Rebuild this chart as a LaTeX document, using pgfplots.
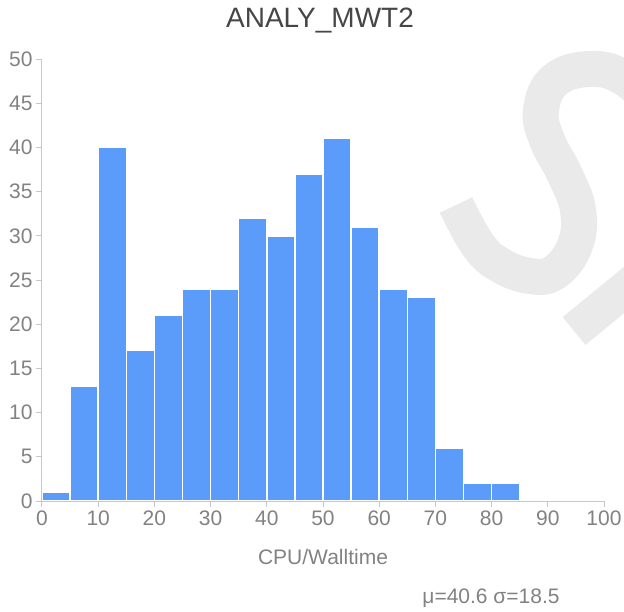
\documentclass[border=0pt]{standalone}
\usepackage{fontspec}
\setmainfont{Liberation Sans}
\usepackage{pgfplots}
\pgfplotsset{compat=1.18}
\definecolor{barblue}{RGB}{91,156,250}
\definecolor{tickgray}{RGB}{130,130,130}
\definecolor{axisgray}{RGB}{200,200,200}
\definecolor{titlegray}{RGB}{70,70,70}
\definecolor{wm}{RGB}{234,234,234}
\begin{document}
\begin{tikzpicture}[x=1pt,y=1pt]
\useasboundingbox (0,0) rectangle (624,611);
\begin{scope}
\clip (0,0) rectangle (624,611);
\draw[wm, line width=36pt, line cap=butt] plot[smooth, tension=0.7] coordinates {(660,501) (624,533) (590,542) (555,531) (541,501) (547,471) (565,436) (578,401) (575,366) (555,339) (530,335) (500,346) (478,366) (456,406)};
\draw[wm, line width=36pt] (574,280) -- (700,383);
\end{scope}
\begin{axis}[at={(42pt,110pt)}, anchor=south west, scale only axis,
  width=562pt, height=442pt,
  xmin=0, xmax=100, ymin=0, ymax=50,
  axis x line=bottom, axis y line=left,
  axis line style={axisgray, line width=1pt, -},
  xtick={0,10,...,100}, ytick={0,5,...,50},
  tick style={axisgray, line width=1pt},
  tick align=outside, major tick length=6pt,
  tick label style={font=\fontsize{21}{24}\selectfont, text=tickgray},
  /pgf/number format/assume math mode=true,
  axis on top=true,
  clip=false]
\addplot[ybar interval, fill=barblue, draw=white, line width=1.5pt] coordinates {(0,1)(5,13)(10,40)(15,17)(20,21)(25,24)(30,24)(35,32)(40,30)(45,37)(50,41)(55,31)(60,24)(65,23)(70,6)(75,2)(80,2)(85,0)};
\end{axis}
\node[text=titlegray, font=\fontsize{28}{32}\selectfont] at (320,590) {ANALY\_MWT2};
\node[text=tickgray, font=\fontsize{21}{24}\selectfont] at (323,54) {CPU/Walltime};
\node[text=tickgray, font=\fontsize{21}{24}\selectfont] at (491,13) {μ=40.6 σ=18.5};
\end{tikzpicture}
\end{document}
